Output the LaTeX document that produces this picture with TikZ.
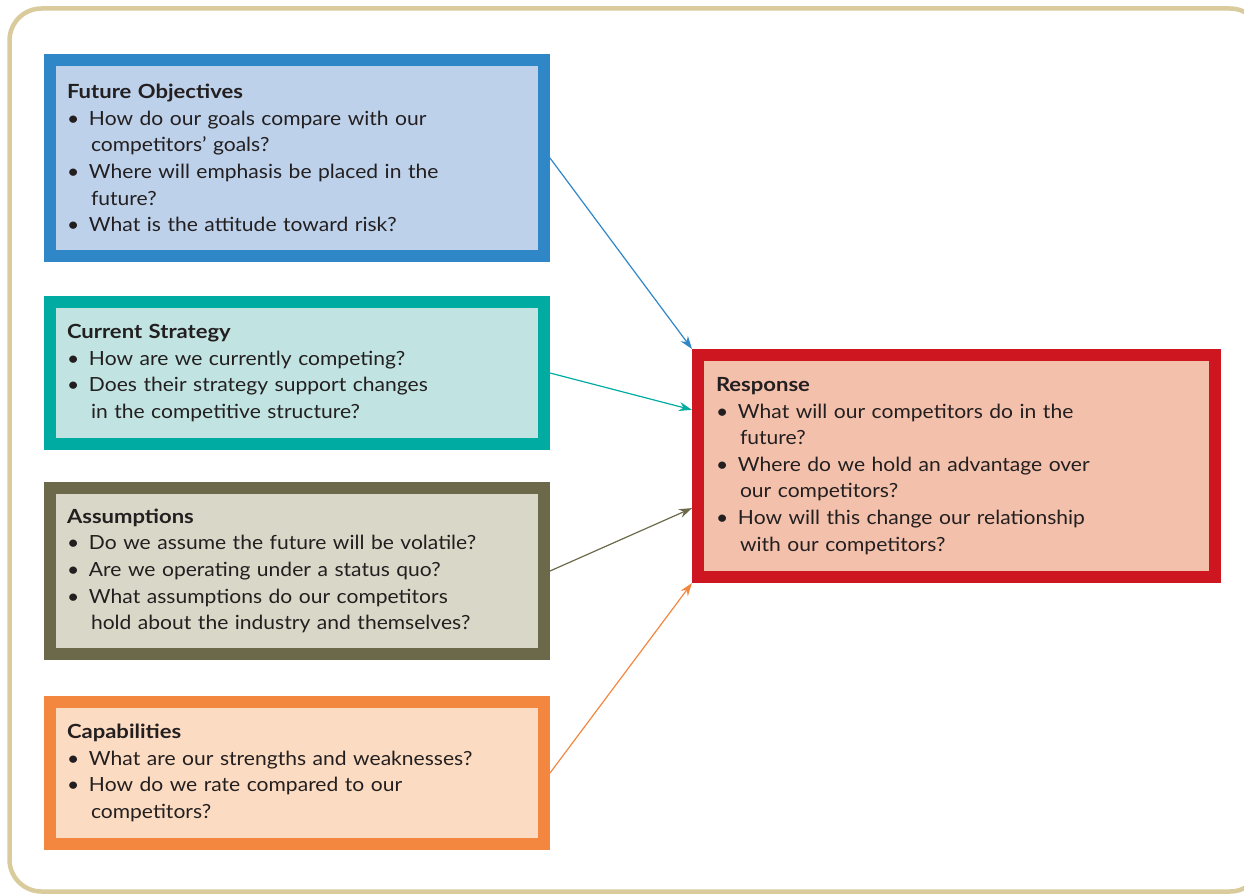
\documentclass[tikz,border=0pt]{standalone}
\usepackage{fontspec}
\setmainfont{Lato}[FakeStretch=1.08, BoldFeatures={FakeStretch=1.13}]
\usepackage{tikz}
\usetikzlibrary{arrows.meta,calc}
\tikzset{>={Stealth[length=13pt,width=9pt]}}
\definecolor{frametan}{HTML}{D9CB9B}
\definecolor{textgray}{HTML}{231F20}
\definecolor{objblue}{HTML}{2F87C8}
\definecolor{objfill}{HTML}{BDD1EA}
\definecolor{stratteal}{HTML}{00ACA1}
\definecolor{stratfill}{HTML}{C1E4E2}
\definecolor{assumolive}{HTML}{6B6949}
\definecolor{assumfill}{HTML}{D9D7C8}
\definecolor{capsorange}{HTML}{F4873F}
\definecolor{capsfill}{HTML}{FBDBC1}
\definecolor{respred}{HTML}{CD1620}
\definecolor{respfill}{HTML}{F2C0AB}
\newcommand{\HEAD}[1]{{\bfseries #1}\par}
\newcommand{\ITEM}[1]{\hangindent=24pt\hangafter=1\noindent
  \makebox[22pt][l]{\textbullet}#1\par}

\begin{document}
\begin{tikzpicture}[x=1pt, y=-1pt,
    box/.style={draw, line width=12pt, rectangle, inner sep=0pt,
      text=textgray, align=left,
      font=\fontsize{19.5}{26.6}\selectfont},
    link/.style={->, line width=1.2pt}]
  \useasboundingbox (0,0) rectangle (1244,896);
  \draw[frametan, line width=4.5pt, rounded corners=32pt]
    (9.5,8.5) rectangle (1262,891.5);

  \node[box, draw=objblue, fill=objfill, minimum width=494pt,
    minimum height=196pt, text width=460pt] (fut) at (297,158)
  {\HEAD{Future Objectives}
   \ITEM{How do our goals compare with our\newline competitors' goals?}
   \ITEM{Where will emphasis be placed in the\newline future?}
   \ITEM{What is the attitude toward risk?}};

  \node[box, draw=stratteal, fill=stratfill, minimum width=494pt,
    minimum height=142pt, text width=460pt] (strat) at (297,373)
  {\HEAD{Current Strategy}
   \ITEM{How are we currently competing?}
   \ITEM{Does their strategy support changes\newline in the competitive structure?}};

  \node[box, draw=assumolive, fill=assumfill, minimum width=494pt,
    minimum height=166pt, text width=460pt] (assum) at (297,571)
  {\HEAD{Assumptions}
   \ITEM{Do we assume the future will be volatile?}
   \ITEM{Are we operating under a status quo?}
   \ITEM{What assumptions do our competitors\newline hold about the industry and themselves?}};

  \node[box, draw=capsorange, fill=capsfill, minimum width=494pt,
    minimum height=142pt, text width=460pt] (capab) at (297,773)
  {\HEAD{Capabilities}
   \ITEM{What are our strengths and weaknesses?}
   \ITEM{How do we rate compared to our\newline competitors?}};

  \node[box, draw=respred, fill=respfill, minimum width=517pt,
    minimum height=222pt, text width=481pt] (resp) at (956.5,466)
  {\HEAD{Response}
   \ITEM{What will our competitors do in the\newline future?}
   \ITEM{Where do we hold an advantage over\newline our competitors?}
   \ITEM{How will this change our relationship\newline with our competitors?}};

  \draw[link, objblue] (fut.east) -- (resp.north west);
  \draw[link, stratteal] (strat.east)
    -- ($(resp.north west)!0.26!(resp.south west)$);
  \draw[link, assumolive] (assum.east)
    -- ($(resp.north west)!0.68!(resp.south west)$);
  \draw[link, capsorange] (capab.east) -- (resp.south west);
\end{tikzpicture}
\end{document}
